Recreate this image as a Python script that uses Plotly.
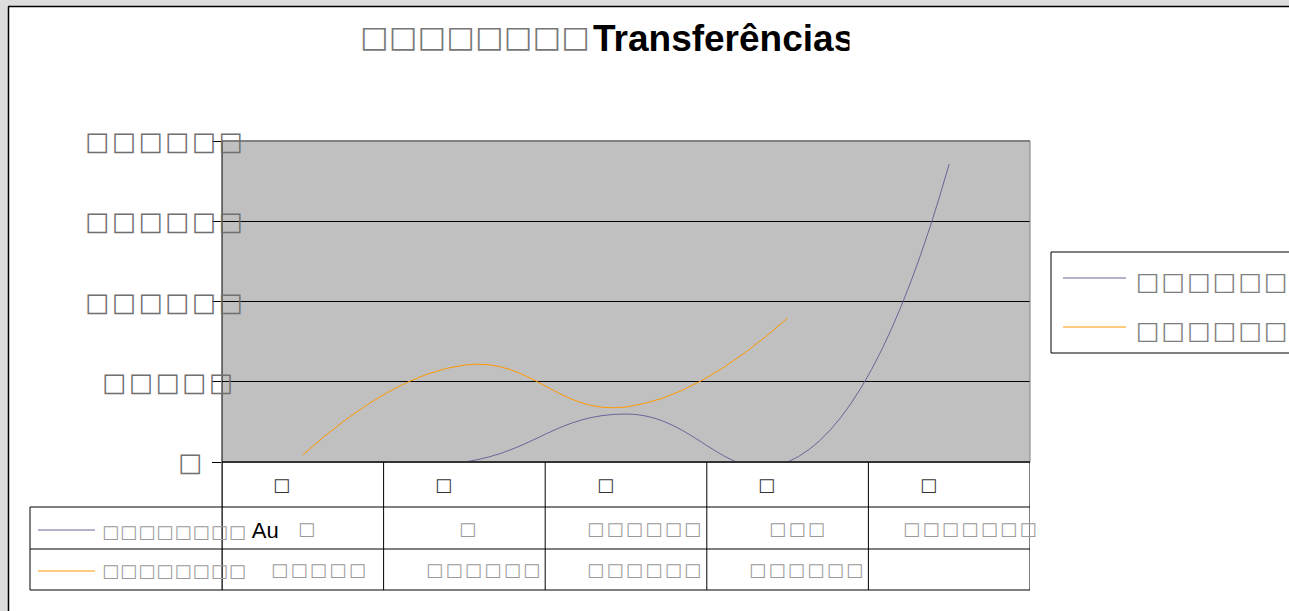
import plotly.graph_objects as go

# ---- data (boxes stand for the glyphs that are missing in the original rendering) ----
categories = [0, 1, 2, 3, 4]
category_labels = ["□", "□", "□", "□", "□"]

series_a = [0, 0, 2990, 0, 18570]          # purple series
series_b = [440, 6040, 3430, 8970, None]   # orange series

series_a_label = "□□□□□□□□"
series_a_suffix = "Au"
series_b_label = "□□□□□□□□"
legend_labels = ["□□□□□□", "□□□□□□"]

cells_a = ["□", "□", "□□□□□□", "□□□", "□□□□□□□"]
cells_b = ["□□□□□", "□□□□□□", "□□□□□□", "□□□□□□", ""]

y_ticks = [0, 5000, 10000, 15000, 20000]
y_tick_text = ["□", "□□□□□", "□□□□□□", "□□□□□□", "□□□□□□"]

title_boxes = "□" * 8
title_word = "Transferências"

# ---- geometry, in page pixels ----
W, H = 1289, 611
L, R, T, B = 222, 1030, 141, 462
PURPLE = "#666699"
ORANGE = "#ff9900"
FONT = "Liberation Sans, DejaVu Sans, sans-serif"
BOX_FONT = "DejaVu Sans"


def px(x):
    return (x - L) / (R - L)


def py(y):
    return (B - y) / (B - T)


def boxes(txt, ls):
    return f'<span style="letter-spacing:{ls}px">{txt}</span>'


fig = go.Figure()

fig.add_trace(go.Scatter(
    x=categories, y=series_a, mode="lines",
    line=dict(color=PURPLE, width=1, shape="spline", smoothing=1.3),
    hoverinfo="skip",
))
fig.add_trace(go.Scatter(
    x=categories, y=series_b, mode="lines",
    line=dict(color=ORANGE, width=1, shape="spline", smoothing=1.3),
    hoverinfo="skip",
))

shapes = []
# grey page around the chart panel
shapes.append(dict(type="rect", xref="paper", yref="paper", layer="below",
                   x0=px(-5), x1=px(8), y0=py(620), y1=py(-5),
                   fillcolor="#dddddd", line=dict(width=0)))
shapes.append(dict(type="rect", xref="paper", yref="paper", layer="below",
                   x0=px(-5), x1=px(1300), y0=py(6), y1=py(-5),
                   fillcolor="#dddddd", line=dict(width=0)))
# frame of the chart panel
shapes.append(dict(type="line", xref="paper", yref="paper", x0=px(8.5), x1=px(8.5),
                   y0=py(620), y1=py(6.5), line=dict(color="black", width=1.5)))
shapes.append(dict(type="line", xref="paper", yref="paper", x0=px(8), x1=px(1300),
                   y0=py(6.5), y1=py(6.5), line=dict(color="black", width=1.5)))
# plot border
shapes.append(dict(type="line", xref="paper", yref="paper", x0=0, x1=1, y0=1, y1=1,
                   line=dict(color="#808080", width=2)))
shapes.append(dict(type="line", xref="paper", yref="paper", x0=1, x1=1, y0=0, y1=1,
                   line=dict(color="#808080", width=1)))
shapes.append(dict(type="line", xref="paper", yref="paper", x0=0, x1=1, y0=0, y1=0,
                   line=dict(color="#333333", width=2)))
shapes.append(dict(type="line", xref="paper", yref="paper", x0=0, x1=0, y0=py(590), y1=1,
                   line=dict(color="black", width=1)))

# data table grid
for i in range(len(categories) + 1):
    shapes.append(dict(type="line", xref="x", yref="paper",
                       x0=i - 0.5, x1=i - 0.5, y0=py(590), y1=0,
                       line=dict(color="black", width=1)))
for yy in (507, 549, 590):
    shapes.append(dict(type="line", xref="paper", yref="paper",
                       x0=px(30), x1=1, y0=py(yy), y1=py(yy),
                       line=dict(color="black", width=1)))
shapes.append(dict(type="line", xref="paper", yref="paper",
                   x0=px(30), x1=px(30), y0=py(590), y1=py(507),
                   line=dict(color="black", width=1)))
# legend keys inside the table
shapes.append(dict(type="line", xref="paper", yref="paper", x0=px(38), x1=px(95),
                   y0=py(530), y1=py(530), line=dict(color=PURPLE, width=1)))
shapes.append(dict(type="line", xref="paper", yref="paper", x0=px(38), x1=px(95),
                   y0=py(571), y1=py(571), line=dict(color=ORANGE, width=1)))

# right-hand legend box
shapes.append(dict(type="rect", xref="paper", yref="paper",
                   x0=px(1051), x1=px(1400), y0=py(353), y1=py(252),
                   fillcolor="white", line=dict(color="black", width=1)))
shapes.append(dict(type="line", xref="paper", yref="paper", x0=px(1063), x1=px(1126),
                   y0=py(278), y1=py(278), line=dict(color=PURPLE, width=1)))
shapes.append(dict(type="line", xref="paper", yref="paper", x0=px(1063), x1=px(1126),
                   y0=py(327), y1=py(327), line=dict(color=ORANGE, width=1)))

annotations = []
# title
annotations.append(dict(xref="paper", yref="paper", x=px(592), y=py(36),
                        xanchor="right", yanchor="middle", showarrow=False,
                        text=boxes(title_boxes, 0.4),
                        font=dict(family=BOX_FONT, size=30, color="#777777")))
annotations.append(dict(xref="paper", yref="paper", x=px(591), y=py(38),
                        xanchor="left", yanchor="middle", showarrow=False,
                        text="<b>" + title_word + "</b>",
                        font=dict(family=FONT, size=37, color="black")))
# clip the end of the title
annotations.append(dict(xref="paper", yref="paper", x=px(849), y=py(38),
                        xanchor="left", yanchor="middle", showarrow=False,
                        text=" ", width=40, height=50, bgcolor="white"))

# y tick labels
y_label_right = [200, 230, 240, 240, 240]
for val, txt, right in zip(y_ticks, y_tick_text, y_label_right):
    annotations.append(dict(xref="paper", yref="y", x=px(right + 7), y=val,
                            xanchor="right", yanchor="middle", showarrow=False,
                            text=boxes(txt, 2.6),
                            font=dict(family=BOX_FONT, size=25.5, color="#707070")))

# table header and cells
for c, lab, ca, cb in zip(categories, category_labels, cells_a, cells_b):
    annotations.append(dict(xref="x", yref="paper", x=c, y=py(484), xshift=-21,
                            yanchor="middle", showarrow=False, text=lab,
                            font=dict(family=BOX_FONT, size=18, color="#333333")))
    annotations.append(dict(xref="x", yref="paper", x=c, y=py(528),
                            xshift=3 * len(ca) + 1.2, yanchor="middle",
                            showarrow=False, text=boxes(ca, 2.4),
                            font=dict(family=BOX_FONT, size=18, color="#9a9a9a")))
    if cb:
        annotations.append(dict(xref="x", yref="paper", x=c, y=py(569),
                                xshift=3 * len(cb) + 1.2, yanchor="middle",
                                showarrow=False, text=boxes(cb, 2.4),
                                font=dict(family=BOX_FONT, size=18, color="#9a9a9a")))

# row labels of the table
annotations.append(dict(xref="paper", yref="paper", x=px(100), y=py(530),
                        xanchor="left", yanchor="middle", showarrow=False,
                        text=f'<span style="font-family:{BOX_FONT};font-size:18px;'
                             f'letter-spacing:1.1px;color:#9a9a9a">'
                             f'{series_a_label}</span> {series_a_suffix}',
                        font=dict(family=FONT, size=22, color="black")))
annotations.append(dict(xref="paper", yref="paper", x=px(100), y=py(570),
                        xanchor="left", yanchor="middle", showarrow=False,
                        text=boxes(series_b_label, 1.1),
                        font=dict(family=BOX_FONT, size=18, color="#9a9a9a")))

# right legend labels
for lab, yy in zip(legend_labels, (281, 330)):
    annotations.append(dict(xref="paper", yref="paper", x=px(1134), y=py(yy),
                            xanchor="left", yanchor="middle", showarrow=False,
                            text=boxes(lab, 2),
                            font=dict(family=BOX_FONT, size=25, color="#808080")))

fig.update_layout(
    width=W, height=H,
    margin=dict(l=L, r=W - R, t=T, b=H - B, pad=0),
    paper_bgcolor="white",
    plot_bgcolor="#c0c0c0",
    showlegend=False,
    shapes=shapes,
    annotations=annotations,
    xaxis=dict(range=[-0.5, 4.5], showticklabels=False, showgrid=False,
               zeroline=False, ticks="", fixedrange=True),
    yaxis=dict(range=[0, 20000], tickvals=y_ticks, showticklabels=False,
               ticks="outside", ticklen=9, tickcolor="black", tickwidth=1,
               showgrid=True, gridcolor="black", gridwidth=1,
               zeroline=False, showline=False, fixedrange=True),
)

fig.write_html("out.html", config={"displayModeBar": False},
               post_script="document.body.style.margin='0';")
